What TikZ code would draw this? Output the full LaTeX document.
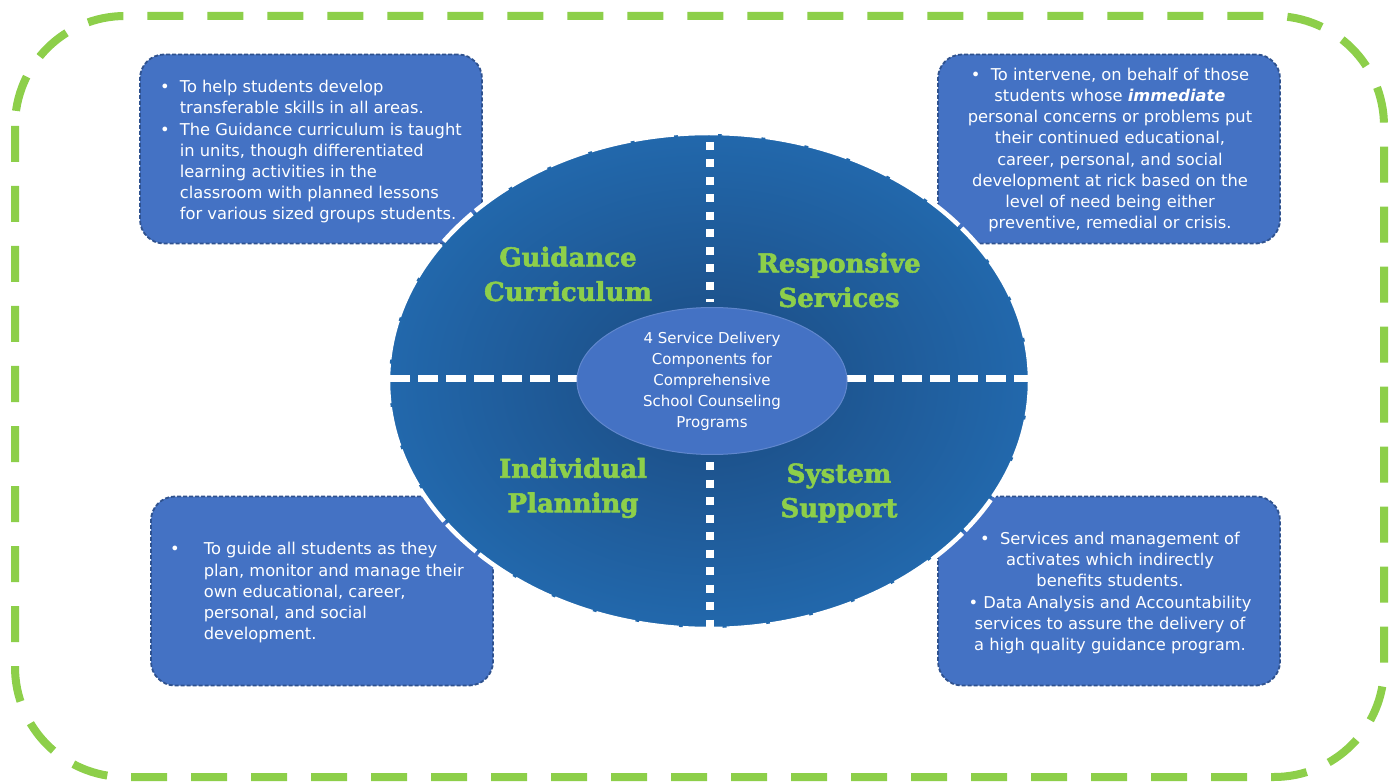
\documentclass[tikz,border=0pt]{standalone}
\usepackage{fontspec}
\setmainfont{DejaVu Sans}
\newfontface\labelfont{DejaVu Serif Bold}[FakeBold=2]
\usetikzlibrary{shapes.geometric}
\definecolor{boxblue}{HTML}{4472C4}
\definecolor{boxedge}{HTML}{2F528F}
\definecolor{lgreen}{HTML}{8DCF4A}
\definecolor{darkc}{HTML}{1B4A80}
\definecolor{edgec}{HTML}{2268AC}
\tikzset{
  infobox/.style={draw=boxedge, line width=1.8pt, dash pattern=on 4pt off 2pt, fill=boxblue, rounded corners=24pt, minimum width=342pt, minimum height=189pt, inner sep=0pt},
  boxtext/.style={text=white, font=\fontsize{16.3}{21.2}\selectfont, inner sep=0pt},
  coretextstyle/.style={text=white, font=\fontsize{15}{21}\selectfont, inner sep=0pt},
  quad/.style={text=lgreen, font=\labelfont\fontsize{26}{34.5}\selectfont, align=center, inner sep=0pt},
  vdots/.style={white, line width=8pt, dash pattern=on 8pt off 9.5pt},
  hdash/.style={white, line width=7pt, dash pattern=on 20pt off 8pt}
}
\begin{document}
\begin{tikzpicture}[x=1pt,y=-1pt]
\fill[white] (0,0) rectangle (1397,783);
\useasboundingbox (0,0) rectangle (1397,783);
% outer green frame
\draw[lgreen, line width=8pt, dash pattern=on 36pt off 24pt, rounded corners=110pt] (15,16) rectangle (1384,777);
% boxes
\node[infobox] (b1) at (311,149) {};
\node[infobox] (b2) at (1109,149) {};
\node[infobox] (b3) at (322,591) {};
\node[infobox] (b4) at (1109,591) {};
% big ellipse
\node[ellipse, minimum width=640pt, minimum height=494pt, inner sep=0pt, shading=radial, inner color=darkc, outer color=edgec] (big) at (709,381) {};
\draw[white, line width=4.5pt, dash pattern=on 40pt off 4pt] (big.center) ellipse [x radius=321pt, y radius=248pt];
% dividers
\coordinate (vt) at (710,142);
\coordinate (vtb) at (710,302);
\coordinate (vb1) at (710,462);
\coordinate (vb2) at (710,628);
\coordinate (hl1) at (390,378);
\coordinate (hl2) at (580,378);
\coordinate (hr1) at (846,378);
\coordinate (hr2) at (1028,378);
\draw[vdots] (vt) -- (vtb);
\draw[vdots] (vb1) -- (vb2);
\draw[hdash] (hl1) -- (hl2);
\draw[hdash] (hr1) -- (hr2);
% inner ellipse
\node[ellipse, minimum width=270pt, minimum height=147pt, inner sep=0pt, fill=boxblue, draw=boxblue!85!white, line width=1pt] (core) at (712,381) {};
\node[coretextstyle, align=center] (coretext) at (712,381) {4 Service Delivery\\Components for\\Comprehensive\\School Counseling\\Programs};
% quadrant labels
\node[quad] (gc) at (568,274) {Guidance\\Curriculum};
\node[quad] (rs) at (839,280) {Responsive\\Services};
\node[quad] (ip) at (573,488) {Individual\\Planning};
\node[quad] (ss) at (839,493) {System\\Support};
% box texts
\node[boxtext, anchor=west] (t1) at (160,152) {\begin{tabular}{@{}l@{\hspace{10pt}}l@{}}
\textbullet & To help students develop\\
 & transferable skills in all areas.\\
\textbullet & The Guidance curriculum is taught\\
 & in units, though differentiated\\
 & learning activities in the\\
 & classroom with planned lessons\\
 & for various sized groups students.
\end{tabular}};
\node[boxtext, align=center] (t2) at (1110,150) {\textbullet\ \ To intervene, on behalf of those\\
students whose \textbf{\textit{immediate}}\\
personal concerns or problems put\\
their continued educational,\\
career, personal, and social\\
development at rick based on the\\
level of need being either\\
preventive, remedial or crisis.};
\node[boxtext, anchor=west] (t3) at (170,593) {\begin{tabular}{@{}l@{\hspace{24pt}}l@{}}
\textbullet & To guide all students as they\\
 & plan, monitor and manage their\\
 & own educational, career,\\
 & personal, and social\\
 & development.
\end{tabular}};
\node[boxtext, align=center] (t4) at (1110,593) {\textbullet\ \ Services and management of\\
activates which indirectly\\
benefits students.\\
\textbullet\ Data Analysis and Accountability\\
services to assure the delivery of\\
a high quality guidance program.};
\end{tikzpicture}
\end{document}
